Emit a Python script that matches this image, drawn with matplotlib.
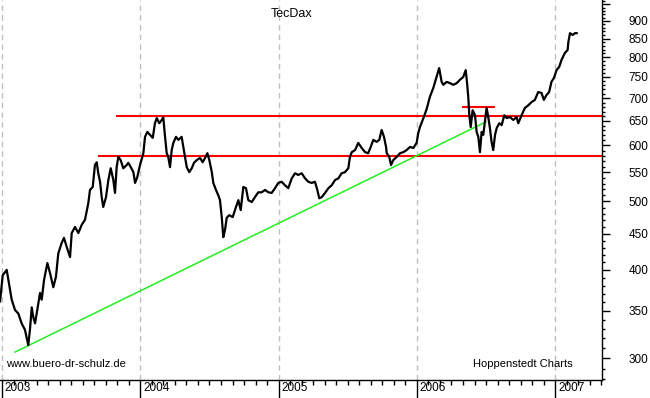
import matplotlib.pyplot as plt
import matplotlib.ticker as mticker
from matplotlib.transforms import ScaledTranslation

# TecDax daily close (time as decimal year)
t = [2002.986, 2003.005, 2003.034, 2003.046, 2003.070, 2003.094, 2003.118, 2003.142,
     2003.166, 2003.190, 2003.202, 2003.215, 2003.226, 2003.239, 2003.255, 2003.275,
     2003.287, 2003.304, 2003.328, 2003.347, 2003.371, 2003.390, 2003.407, 2003.432,
     2003.448, 2003.468, 2003.492, 2003.504, 2003.528, 2003.552, 2003.576, 2003.600,
     2003.624, 2003.636, 2003.656, 2003.672, 2003.685, 2003.696, 2003.709, 2003.721,
     2003.732, 2003.752, 2003.769, 2003.786, 2003.805, 2003.817, 2003.829, 2003.841,
     2003.858, 2003.877, 2003.902, 2003.913, 2003.931, 2003.950, 2003.962, 2003.978,
     2003.998, 2004.022, 2004.034, 2004.051, 2004.070, 2004.090, 2004.106, 2004.119,
     2004.137, 2004.155, 2004.166, 2004.179, 2004.191, 2004.202, 2004.215, 2004.227,
     2004.239, 2004.258, 2004.275, 2004.299, 2004.311, 2004.323, 2004.336, 2004.354,
     2004.372, 2004.388, 2004.408, 2004.432, 2004.451, 2004.468, 2004.485, 2004.499,
     2004.517, 2004.528, 2004.547, 2004.564, 2004.576, 2004.589, 2004.600, 2004.612,
     2004.625, 2004.643, 2004.668, 2004.692, 2004.709, 2004.726, 2004.745, 2004.764,
     2004.781, 2004.806, 2004.829, 2004.853, 2004.878, 2004.902, 2004.926, 2004.950,
     2004.974, 2004.998, 2005.022, 2005.046, 2005.070, 2005.095, 2005.119, 2005.142,
     2005.167, 2005.191, 2005.215, 2005.239, 2005.263, 2005.280, 2005.294, 2005.312,
     2005.336, 2005.360, 2005.384, 2005.408, 2005.432, 2005.456, 2005.480, 2005.504,
     2005.516, 2005.529, 2005.553, 2005.576, 2005.601, 2005.625, 2005.648, 2005.666,
     2005.685, 2005.709, 2005.728, 2005.745, 2005.762, 2005.777, 2005.782, 2005.800,
     2005.813, 2005.829, 2005.854, 2005.878, 2005.902, 2005.926, 2005.950, 2005.974,
     2005.998, 2006.010, 2006.022, 2006.046, 2006.070, 2006.094, 2006.118, 2006.142,
     2006.161, 2006.179, 2006.191, 2006.215, 2006.239, 2006.263, 2006.288, 2006.311,
     2006.335, 2006.353, 2006.364, 2006.372, 2006.379, 2006.389, 2006.403, 2006.420,
     2006.432, 2006.444, 2006.456, 2006.468, 2006.480, 2006.492, 2006.504, 2006.516,
     2006.528, 2006.540, 2006.552, 2006.565, 2006.577, 2006.596, 2006.613, 2006.632,
     2006.649, 2006.673, 2006.697, 2006.721, 2006.733, 2006.757, 2006.781, 2006.806,
     2006.829, 2006.853, 2006.877, 2006.901, 2006.918, 2006.937, 2006.956, 2006.973,
     2006.990, 2007.010, 2007.029, 2007.046, 2007.070, 2007.090, 2007.095, 2007.107,
     2007.126, 2007.143, 2007.155]
price = [361, 393, 400, 387, 363, 351, 347, 336,
         329, 313, 329, 354, 343, 336, 351, 371,
         363, 387, 409, 396, 378, 391, 422, 437,
         444, 431, 417, 451, 460, 451, 463, 471,
         497, 519, 524, 563, 568, 548, 533, 507,
         491, 507, 536, 557, 536, 514, 559, 578,
         572, 557, 563, 567, 559, 550, 531, 541,
         563, 585, 617, 627, 621, 615, 645, 656,
         645, 652, 658, 617, 585, 578, 559, 591,
         605, 617, 611, 617, 597, 578, 559, 550,
         557, 567, 572, 576, 568, 576, 585, 572,
         550, 531, 519, 510, 502, 475, 445, 455,
         474, 478, 475, 491, 502, 486, 524, 522,
         502, 499, 507, 515, 515, 519, 515, 514,
         522, 531, 533, 527, 522, 539, 548, 545,
         548, 539, 533, 531, 533, 519, 505, 507,
         514, 522, 527, 536, 539, 548, 550, 557,
         578, 587, 591, 605, 595, 587, 585, 597,
         611, 607, 611, 631, 617, 597, 585, 578,
         563, 572, 578, 585, 587, 591, 597, 595,
         605, 625, 637, 655, 675, 703, 723, 750,
         772, 738, 731, 738, 735, 731, 735, 743,
         750, 767, 731, 700, 662, 637, 673, 662,
         627, 617, 587, 627, 621, 648, 678, 658,
         635, 607, 591, 621, 635, 645, 641, 662,
         656, 658, 652, 658, 645, 662, 678, 684,
         691, 696, 714, 712, 696, 707, 714, 738,
         747, 767, 775, 793, 811, 819, 840, 865,
         860, 865, 865]

years = [2003, 2004, 2005, 2006, 2007]
year_labels = ["2003", "2004", "2005", "2006", "2007"]

# support / resistance lines: (level, start, end)
support_low = (580, 2003.694)
support_high = (660, 2003.824)
short_top = (680, 2006.325, 2006.565)
# trend line: two anchor points
trend_t = [2003.094, 2006.500]
trend_v = [306, 648]

x_min, x_max = 2002.9855, 2007.3384
y_min, y_max = 279.4, 963.7

plt.rcParams['font.family'] = ['Liberation Sans', 'DejaVu Sans']
fig = plt.figure(figsize=(6.5, 3.98), dpi=100)
ax = fig.add_axes([0, 18 / 398, 602 / 650, 380 / 398])
ax.set_yscale('log')
ax.set_xlim(x_min, x_max)
ax.set_ylim(y_min, y_max)

for yr in years:
    ax.axvline(yr, color='#c0c0c0', lw=1, ls=(0, (4, 3)), zorder=0)

ax.hlines(support_low[0], support_low[1], x_max, color='#ff0000', lw=1.5, zorder=2)
ax.hlines(support_high[0], support_high[1], x_max, color='#ff0000', lw=1.5, zorder=2)
ax.hlines(short_top[0], short_top[1], short_top[2], color='#ff0000', lw=1.5, zorder=2)
ax.plot(trend_t, trend_v, color='#22ee22', lw=1.1, zorder=2)

ax.plot(t, price, color='black', lw=1.6, zorder=3)

# axes look
for side in ['left', 'top']:
    ax.spines[side].set_visible(False)
ax.spines['right'].set_linewidth(1)
ax.spines['bottom'].set_linewidth(1)

ax.yaxis.tick_right()
ax.yaxis.set_major_locator(mticker.FixedLocator(list(range(300, 951, 50))))
ax.yaxis.set_minor_locator(mticker.FixedLocator(
    [v for v in range(280, 961, 10) if v % 50 != 0]))
ax.yaxis.set_major_formatter(mticker.FuncFormatter(
    lambda v, pos: '' if v > 900 else '%d' % v))
ax.yaxis.set_minor_formatter(mticker.NullFormatter())
ax.tick_params(axis='y', which='major', length=5.5, width=1, pad=13.5,
               labelsize=8.5, right=True, left=False)
ax.tick_params(axis='y', which='minor', length=2.5, width=1, right=True, left=False)

ax.set_xticks(years)
ax.set_xticklabels(year_labels)
ax.set_xticks([y + m / 12 for y in range(2002, 2008) for m in range(1, 12)
               if x_min < y + m / 12 < x_max], minor=True)
ax.tick_params(axis='x', which='major', length=13, width=1, pad=-11.5, labelsize=8.5)
ax.tick_params(axis='x', which='minor', length=3.5, width=1)
for lbl in ax.get_xticklabels():
    lbl.set_horizontalalignment('left')
    lbl.set_transform(lbl.get_transform() + ScaledTranslation(2 / 72, 0, fig.dpi_scale_trans))

fig.text(292 / 650, 1 - 14 / 398, 'TecDax', ha='center', va='center', fontsize=9)
fig.text(6 / 650, 1 - 364 / 398, 'www.buero-dr-schulz.de', va='center', fontsize=8)
fig.text(473 / 650, 1 - 364 / 398, 'Hoppenstedt Charts', va='center', fontsize=8)

fig.savefig('out.png', dpi=100, facecolor='white')
